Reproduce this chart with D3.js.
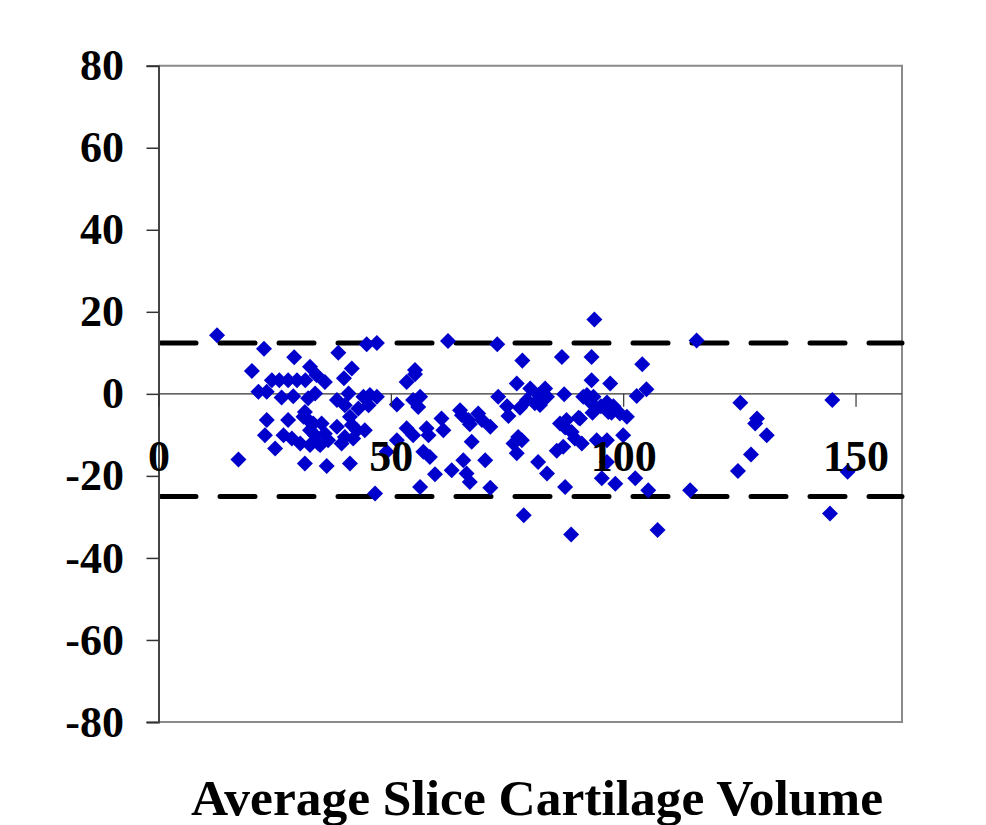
<!DOCTYPE html>
<html>
<head>
<meta charset="utf-8">
<script src="https://cdn.jsdelivr.net/npm/d3@7"></script>
<style>
  html, body { margin: 0; padding: 0; background: #ffffff; }
  svg { display: block; }
</style>
</head>
<body>
<svg id="chart" width="986" height="825"></svg>
<script>
// ---- Data ----
const xTickValues = [0, 50, 100, 150];
const yTickValues = [-80, -60, -40, -20, 0, 20, 40, 60, 80];
const limitLines = [12.4, -25.0];
const axisTitle = "Average Slice Cartilage Volume";

const avgVolume = [
  12.6, 22.7, 29.2, 20.1, 32.6, 24.4, 26.0, 27.9, 29.8, 31.6,
  34.0, 35.8, 21.5, 23.3, 26.5, 29.0, 32.2, 33.7, 23.3, 27.9,
  22.9, 25.1, 17.2, 31.5, 36.2, 26.9, 28.7, 30.5, 32.6, 34.4,
  31.2, 32.2, 33.3, 35.1, 32.6, 33.7, 35.8, 36.5, 34.8, 31.5,
  38.7, 44.8, 47.0, 41.6, 39.9, 38.4, 40.9, 40.1, 44.1, 45.5,
  47.0, 43.0, 45.2, 41.2, 41.6, 38.4, 42.7, 44.4, 40.1, 39.4,
  41.9, 41.2, 46.6, 49.1, 62.3, 72.9, 55.2, 53.4, 55.2, 51.3,
  54.8, 56.3, 55.9, 53.4, 54.8, 51.3, 57.7, 60.9, 61.3, 58.1,
  64.9, 66.7, 57.0, 58.4, 59.5, 63.1, 65.6, 66.3, 56.3, 67.0,
  70.3, 71.4, 65.3, 67.0, 68.8, 69.6, 71.4, 67.4, 78.3, 86.8,
  93.2, 93.8, 104.1, 77.1, 80.0, 81.8, 83.2, 83.6, 81.0, 79.3,
  77.8, 75.0, 73.1, 75.3, 87.3, 92.2, 93.6, 92.9, 93.4, 95.2,
  97.2, 93.2, 96.5, 97.9, 97.5, 99.3, 100.8, 102.9, 105.0, 91.4,
  96.8, 90.7, 77.4, 76.4, 78.2, 77.1, 81.7, 83.6, 87.5, 86.4,
  87.5, 88.9, 87.8, 90.4, 89.6, 91.1, 85.7, 87.1, 94.3, 96.5,
  100.0, 96.5, 95.4, 98.3, 102.6, 105.4, 78.6, 88.8, 107.4, 114.4,
  115.8, 125.2, 128.8, 128.4, 130.9, 127.5, 124.7, 145.0, 148.3, 144.5,
  82.1
];
const difference = [
  14.3, 11.0, 8.9, 5.6, 6.6, 3.3, 3.3, 3.3, 3.3, 3.3,
  4.6, 2.9, 0.5, 0.5, -0.9, -0.6, -1.1, 0.1, -6.4, -6.4,
  -10.1, -13.3, -16.0, -17.0, -17.6, -10.1, -10.9, -12.1, -12.5, -12.1,
  -5.6, -6.4, -7.2, -7.2, -8.9, -10.1, -9.7, -11.3, -12.5, -4.4,
  10.0, 12.1, 12.4, 6.2, 3.8, -1.5, 0.1, -2.8, -0.7, -0.3,
  -0.7, -3.6, -2.8, -5.6, -7.6, -8.0, -8.9, -8.9, -10.5, -12.1,
  -10.9, -17.0, -24.3, -14.1, 12.9, 12.1, 5.8, 2.9, 4.8, -2.6,
  -1.5, -0.7, -3.2, -8.4, -10.1, -11.3, -8.4, -6.0, -8.9, -10.1,
  -4.0, -6.4, -14.1, -15.4, -19.6, -18.6, -16.2, -19.4, -22.7, -21.5,
  -16.2, -22.9, -5.2, -7.4, -4.8, -6.4, -8.0, -11.7, 8.1, 9.0,
  9.0, 18.1, 7.2, 2.5, 1.3, -0.3, 1.3, -0.7, -2.3, -1.5,
  -3.4, -3.0, -0.7, -5.4, -0.1, -0.3, -0.7, -2.0, -4.6, -3.0,
  2.5, 3.3, -2.1, -3.0, -4.6, -4.8, -5.6, -0.5, 1.1, -0.7,
  -4.4, -6.0, -10.5, -12.1, -11.3, -14.5, -16.6, -19.4, -22.7, -7.2,
  -8.2, -9.3, -6.4, -5.8, -10.9, -12.1, -13.9, -12.9, -11.3, -11.3,
  -10.1, -16.6, -20.6, -21.9, -20.6, -23.5, -29.6, -34.3, -33.2, -23.5,
  13.0, -2.2, -6.0, -7.2, -10.1, -14.8, -18.8, -1.5, -19.0, -29.2,
  -2.7
];

// ---- Layout ----
const svg = d3.select("#chart");
const plotLeft = 158.5, plotRight = 902, plotTop = 65.7, plotBottom = 722;

const x = d3.scaleLinear().domain([0, 160]).range([plotLeft, plotRight]);
const y = d3.scaleLinear().domain([-80, 80]).range([plotBottom, plotTop]);

const serif = "'Liberation Serif', 'Times New Roman', Times, serif";
const plainFormat = d => String(d);

// frame (top, right, bottom) in grey
svg.append("path")
  .attr("d", `M${plotLeft},${plotTop}H${plotRight}V${plotBottom}H${plotLeft}`)
  .attr("fill", "none")
  .attr("stroke", "#8a8a8a")
  .attr("stroke-width", 2);

// zero line
svg.append("line")
  .attr("x1", plotLeft).attr("x2", plotRight)
  .attr("y1", y(0)).attr("y2", y(0))
  .attr("stroke", "#333").attr("stroke-width", 1.2);

// limit lines (dashed)
svg.append("g").selectAll("line")
  .data(limitLines)
  .join("line")
  .attr("x1", plotLeft + 2.5).attr("x2", plotRight)
  .attr("y1", d => y(d)).attr("y2", d => y(d))
  .attr("stroke", "#000")
  .attr("stroke-width", 5)
  .attr("stroke-linecap", "round")
  .attr("stroke-dasharray", "35,24");

// points (diamonds)
const pts = avgVolume.map((v, i) => ({ x: v, y: difference[i] }));
svg.append("g").selectAll("path")
  .data(pts)
  .join("path")
  .attr("d", d3.symbol().type(d3.symbolSquare).size(128))
  .attr("transform", d => `translate(${x(d.x)},${y(d.y)}) rotate(45)`)
  .attr("fill", "#0000cc");

// y axis
const yAxis = svg.append("g")
  .attr("transform", `translate(${plotLeft},0)`)
  .call(d3.axisLeft(y).tickValues(yTickValues).tickSize(12).tickFormat(plainFormat));
yAxis.select(".domain").attr("stroke", "#444").attr("stroke-width", 2);
yAxis.selectAll(".tick line").attr("stroke", "#333").attr("stroke-width", 1.5);
yAxis.selectAll(".tick text")
  .attr("x", -34.5)
  .attr("dy", "0.32em")
  .attr("fill", "#000")
  .style("font-family", serif)
  .style("font-weight", "bold")
  .style("font-size", "44px");

// x axis on zero line
const xAxis = svg.append("g")
  .attr("transform", `translate(0,${y(0)})`)
  .call(d3.axisBottom(x).tickValues(xTickValues).tickSize(13).tickFormat(plainFormat));
xAxis.select(".domain").remove();
xAxis.selectAll(".tick line").attr("stroke", "#333").attr("stroke-width", 1.2);
xAxis.selectAll(".tick text")
  .attr("y", 77)
  .attr("dy", "0")
  .attr("fill", "#000")
  .style("font-family", serif)
  .style("font-weight", "bold")
  .style("font-size", "44px");

// axis title
svg.append("text")
  .attr("x", 537)
  .attr("y", 815)
  .attr("text-anchor", "middle")
  .attr("textLength", 692)
  .attr("lengthAdjust", "spacingAndGlyphs")
  .style("font-family", serif)
  .style("font-weight", "bold")
  .style("font-size", "50px")
  .text(axisTitle);
</script>
</body>
</html>
